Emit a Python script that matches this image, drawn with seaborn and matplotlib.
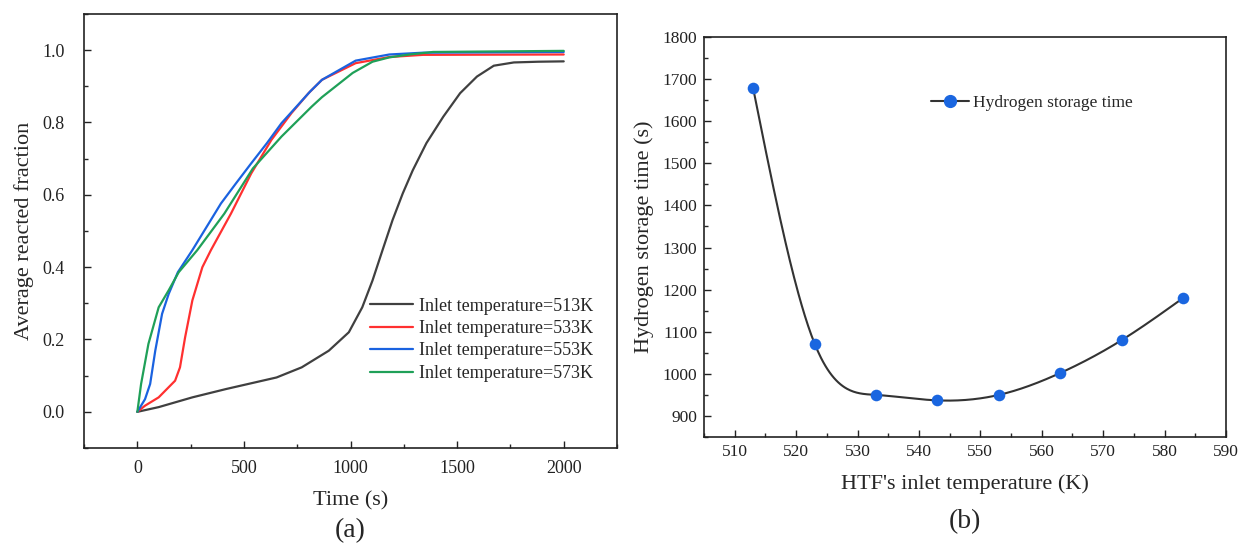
import numpy as np
import pandas as pd
import matplotlib
matplotlib.use("Agg")
import matplotlib.pyplot as plt
import seaborn as sns
from matplotlib.ticker import MultipleLocator, FormatStrFormatter
from matplotlib.lines import Line2D

# ---------------- data ----------------
t_513 = [0, 100, 258, 416, 653, 771, 898, 992, 1055, 1103, 1150, 1197, 1245, 1292,
         1356, 1435, 1514, 1593, 1672, 1766, 1880, 2000]
f_513 = [0, 0.013, 0.040, 0.063, 0.095, 0.123, 0.169, 0.220, 0.289, 0.363, 0.447, 0.530,
         0.604, 0.668, 0.743, 0.816, 0.881, 0.927, 0.957, 0.966, 0.968, 0.969]

t_533 = [0, 36, 100, 177, 200, 224, 258, 305, 345, 439, 534, 629, 723, 803, 866, 1024,
         1182, 1340, 2000]
f_533 = [0, 0.017, 0.040, 0.086, 0.123, 0.206, 0.308, 0.40, 0.447, 0.548, 0.659, 0.752,
         0.826, 0.881, 0.918, 0.964, 0.981, 0.987, 0.988]

t_553 = [0, 36, 60, 84, 116, 147, 190, 258, 336, 392, 463, 534, 608, 676, 811, 866,
         1024, 1182, 1340, 2000]
f_553 = [0, 0.035, 0.077, 0.169, 0.271, 0.326, 0.386, 0.447, 0.522, 0.576, 0.632, 0.687,
         0.743, 0.798, 0.886, 0.918, 0.971, 0.988, 0.993, 0.995]

t_573 = [0, 17.5, 52, 100, 147, 194, 281, 408, 542, 676, 818, 866, 1010, 1103, 1182,
         1277, 1387, 2000]
f_573 = [0, 0.077, 0.188, 0.289, 0.336, 0.386, 0.447, 0.548, 0.673, 0.761, 0.844, 0.870,
         0.937, 0.968, 0.980, 0.988, 0.995, 0.998]

series_labels = ["Inlet temperature=513K", "Inlet temperature=533K",
                 "Inlet temperature=553K", "Inlet temperature=573K"]

htf_temp = [513, 523, 533, 543, 553, 563, 573, 583]
storage_time = [1678, 1072, 950, 937, 950, 1002, 1080, 1180]

# ---------------- helpers ----------------
def natural_spline(x, y, n=400):
    x = np.asarray(x, float); y = np.asarray(y, float)
    m = len(x); h = np.diff(x)
    A = np.zeros((m, m)); b = np.zeros(m)
    A[0, 0] = A[-1, -1] = 1
    for i in range(1, m - 1):
        A[i, i - 1] = h[i - 1]; A[i, i] = 2 * (h[i - 1] + h[i]); A[i, i + 1] = h[i]
        b[i] = 3 * ((y[i + 1] - y[i]) / h[i] - (y[i] - y[i - 1]) / h[i - 1])
    c = np.linalg.solve(A, b)
    xs = np.linspace(x[0], x[-1], n)
    idx = np.clip(np.searchsorted(x, xs) - 1, 0, m - 2)
    dx = xs - x[idx]
    bb = (y[1:] - y[:-1]) / h - h * (2 * c[:-1] + c[1:]) / 3
    d = (c[1:] - c[:-1]) / (3 * h)
    ys = y[idx] + bb[idx] * dx + c[idx] * dx ** 2 + d[idx] * dx ** 3
    return xs, ys

# ---------------- style ----------------
sns.set_theme(style="ticks")
plt.rcParams["font.family"] = ["Liberation Serif", "DejaVu Serif"]
plt.rcParams["axes.linewidth"] = 1.2
plt.rcParams["xtick.direction"] = "in"
plt.rcParams["ytick.direction"] = "in"

fig = plt.figure(figsize=(12.38, 5.46), dpi=100)
ax1 = fig.add_axes([0.0679, 0.1795, 0.4305, 0.7949])
ax2 = fig.add_axes([0.5687, 0.1996, 0.4216, 0.7326])

colors = ["#404040", "#ff3030", "#1a62e0", "#1fa058"]
frames = []
for lab, tt, ff in zip(series_labels, [t_513, t_533, t_553, t_573], [f_513, f_533, f_553, f_573]):
    frames.append(pd.DataFrame({"t": tt, "f": ff, "series": lab}))
df = pd.concat(frames, ignore_index=True)

sns.lineplot(data=df, x="t", y="f", hue="series", palette=colors, ax=ax1,
             linewidth=1.6, sort=False, estimator=None)
ax1.set_xlim(-250, 2250)
ax1.set_ylim(-0.1, 1.1)
ax1.xaxis.set_major_locator(MultipleLocator(500))
ax1.xaxis.set_minor_locator(MultipleLocator(250))
ax1.yaxis.set_major_locator(MultipleLocator(0.2))
ax1.yaxis.set_minor_locator(MultipleLocator(0.1))
ax1.yaxis.set_major_formatter(FormatStrFormatter("%.1f"))
ax1.tick_params(axis="both", which="major", length=5, width=1.0, labelsize=13, colors="#222222")
ax1.tick_params(axis="y", which="major", pad=14)
ax1.tick_params(axis="x", which="major", pad=9)
ax1.tick_params(axis="both", which="minor", length=3, width=1.0)
ax1.set_xlabel("Time (s)", fontsize=16, labelpad=10)
ax1.set_ylabel("Average reacted fraction", fontsize=16, labelpad=6)
leg = ax1.legend(loc="lower right", bbox_to_anchor=(0.985, 0.115), frameon=False,
                 fontsize=13, handlelength=2.4, handletextpad=0.3, labelspacing=0.3)
for ln in leg.get_lines():
    ln.set_linewidth(1.6)
ax1.text(0.5, -0.19, "(a)", transform=ax1.transAxes, ha="center", va="center", fontsize=20)

# right panel
xs, ys = natural_spline(htf_temp, storage_time)
sns.lineplot(x=xs, y=ys, ax=ax2, color="#333333", linewidth=1.5, sort=False, estimator=None)
sns.scatterplot(x=htf_temp, y=storage_time, ax=ax2, color="#1a66e0", s=70,
                edgecolor="#1a66e0", linewidth=0, zorder=3)
ax2.set_xlim(505, 590)
ax2.set_ylim(850, 1800)
ax2.xaxis.set_major_locator(MultipleLocator(10))
ax2.xaxis.set_minor_locator(MultipleLocator(5))
ax2.yaxis.set_major_locator(MultipleLocator(100))
ax2.yaxis.set_minor_locator(MultipleLocator(50))
ax2.tick_params(axis="both", which="major", length=5, width=1.0, labelsize=12.5,
                colors="#222222", pad=5)
ax2.tick_params(axis="both", which="minor", length=3, width=1.0)
ax2.set_xlabel("HTF's inlet temperature (K)", fontsize=16, labelpad=10)
ax2.set_ylabel("Hydrogen storage time (s)", fontsize=16, labelpad=6)
handle = Line2D([], [], color="#333333", linewidth=1.5, marker="o", markersize=8.5,
                markerfacecolor="#1a66e0", markeredgecolor="#1a66e0")
ax2.legend([handle], ["Hydrogen storage time"], loc="upper left",
           bbox_to_anchor=(0.405, 0.895), frameon=False, fontsize=12.5,
           handlelength=2.2, handletextpad=0.2)
ax2.text(0.5, -0.2125, "(b)", transform=ax2.transAxes, ha="center", va="center", fontsize=20)

for ax in (ax1, ax2):
    for s in ax.spines.values():
        s.set_visible(True)
        s.set_color("#222222")

fig.savefig("out.png", dpi=100)
